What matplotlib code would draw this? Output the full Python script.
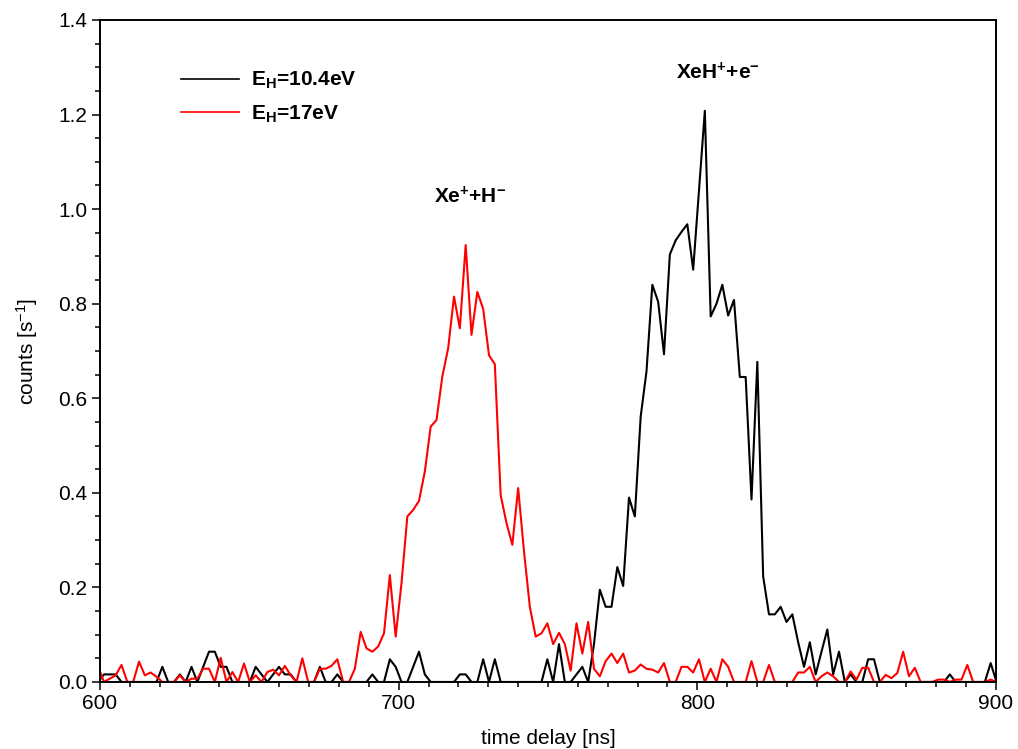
import numpy as np
import matplotlib
matplotlib.use("Agg")
import matplotlib.pyplot as plt
from matplotlib.ticker import MultipleLocator, FormatStrFormatter

plt.rcParams["font.family"] = ["Liberation Sans", "DejaVu Sans"]
plt.rcParams["mathtext.fontset"] = "custom"
plt.rcParams["mathtext.rm"] = "Liberation Sans"
plt.rcParams["mathtext.it"] = "Liberation Sans:italic"
plt.rcParams["mathtext.bf"] = "Liberation Sans:bold"

# time channels (ns): uniform bins
t_start = 599.4
t_step = 1.953

# counts [1/s], E_H = 10.4 eV
counts_104 = [
    0, 0.016, 0.016, 0.016, 0, 0, 0, 0, 0, 0,
    0, 0.032, 0, 0, 0.016, 0, 0.032, 0, 0.032, 0.064,
    0.064, 0.032, 0.032, 0, 0, 0, 0, 0.032, 0.016, 0,
    0.016, 0.032, 0.016, 0.016, 0, 0, 0, 0, 0.032, 0,
    0, 0.016, 0, 0, 0, 0, 0, 0.016, 0, 0,
    0.048, 0.032, 0, 0, 0.032, 0.064, 0.016, 0, 0, 0,
    0, 0, 0.016, 0.016, 0, 0, 0.048, 0, 0.048, 0,
    0, 0, 0, 0, 0, 0, 0, 0.048, 0, 0.08,
    0, 0, 0.016, 0.032, 0, 0.08, 0.195, 0.159, 0.159, 0.243,
    0.203, 0.39, 0.35, 0.561, 0.657, 0.84, 0.804, 0.693, 0.904, 0.934,
    0.952, 0.968, 0.872, 1.039, 1.208, 0.773, 0.8, 0.84, 0.775, 0.808,
    0.645, 0.645, 0.386, 0.677, 0.223, 0.143, 0.143, 0.159, 0.127, 0.143,
    0.084, 0.032, 0.084, 0.016, 0.064, 0.111, 0.016, 0.064, 0, 0.016,
    0, 0, 0.048, 0.048, 0, 0, 0, 0, 0, 0,
    0, 0, 0, 0, 0, 0, 0.016, 0, 0, 0,
    0, 0, 0, 0.04, 0,
]

# counts [1/s], E_H = 17 eV
counts_17 = [
    0.032, 0, 0.007, 0.014, 0.036, 0, 0, 0.043, 0.014, 0.02,
    0.011, 0, 0, 0, 0.014, 0, 0.007, 0.007, 0.028, 0.028,
    0, 0.051, 0, 0.021, 0, 0.039, 0, 0.014, 0, 0.021,
    0.026, 0.014, 0.034, 0.014, 0, 0.05, 0, 0, 0.028, 0.028,
    0.034, 0.048, 0, 0, 0.028, 0.106, 0.071, 0.064, 0.075, 0.103,
    0.226, 0.096, 0.209, 0.35, 0.364, 0.383, 0.445, 0.54, 0.554, 0.646,
    0.706, 0.815, 0.748, 0.924, 0.734, 0.825, 0.789, 0.691, 0.672, 0.395,
    0.336, 0.29, 0.41, 0.276, 0.159, 0.096, 0.103, 0.124, 0.08, 0.104,
    0.08, 0.024, 0.124, 0.06, 0.127, 0.028, 0.012, 0.044, 0.06, 0.04,
    0.06, 0.02, 0.024, 0.037, 0.028, 0.026, 0.02, 0.04, 0, 0,
    0.032, 0.032, 0.02, 0.048, 0, 0.028, 0, 0.048, 0.032, 0,
    0, 0, 0.044, 0, 0, 0.036, 0, 0, 0, 0,
    0.02, 0.02, 0.032, 0, 0.012, 0.02, 0.012, 0, 0, 0.022,
    0.005, 0.03, 0.03, 0, 0, 0.015, 0.008, 0.019, 0.064, 0.012,
    0.03, 0, 0, 0, 0.005, 0.005, 0, 0.005, 0.005, 0.036,
    0, 0, 0, 0.005, 0,
]

labels = [r"$\mathbf{E_H}$=10.4eV", r"$\mathbf{E_H}$=17eV"]
colors = ["black", "#ff0000"]

t = t_start + t_step * np.arange(len(counts_104))

fig = plt.figure(figsize=(10.18, 7.49), dpi=100)
ax = fig.add_axes([0.0982, 0.0895, 0.8802, 0.8838])

ax.plot(t, counts_104, color=colors[0], lw=1.5, label=labels[0])
ax.plot(t, counts_17, color=colors[1], lw=1.5, label=labels[1])

ax.set_xlim(600, 900)
ax.set_ylim(0, 1.4)
ax.xaxis.set_major_locator(MultipleLocator(100))
ax.xaxis.set_minor_locator(MultipleLocator(10))
ax.yaxis.set_major_locator(MultipleLocator(0.2))
ax.yaxis.set_minor_locator(MultipleLocator(0.05))
ax.yaxis.set_major_formatter(FormatStrFormatter("%.1f"))
ax.tick_params(which="both", direction="out", top=False, right=False, width=1.1, labelsize=15)
ax.tick_params(which="major", length=5.5)
ax.tick_params(which="minor", length=3.5)
for sp in ax.spines.values():
    sp.set_linewidth(1.4)

ax.set_xlabel("time delay [ns]", fontsize=15, labelpad=11)
ax.set_ylabel(r"counts [s$^{-1}$]", fontsize=15, labelpad=13)

ax.text(724, 1.026, r"$\mathbf{Xe^{+}{+}H^{-}}$", fontsize=15, ha="center", va="center")
ax.text(807, 1.288, r"$\mathbf{XeH^{+}{+}e^{-}}$", fontsize=15, ha="center", va="center")

leg = ax.legend(loc="upper left", bbox_to_anchor=(0.069, 0.953), frameon=False,
                handlelength=2.8, handletextpad=0.6, labelspacing=0.58,
                prop={"size": 15, "weight": "bold"})
for h in leg.get_lines():
    h.set_linewidth(1.2)

fig.savefig("out.png", dpi=100)
